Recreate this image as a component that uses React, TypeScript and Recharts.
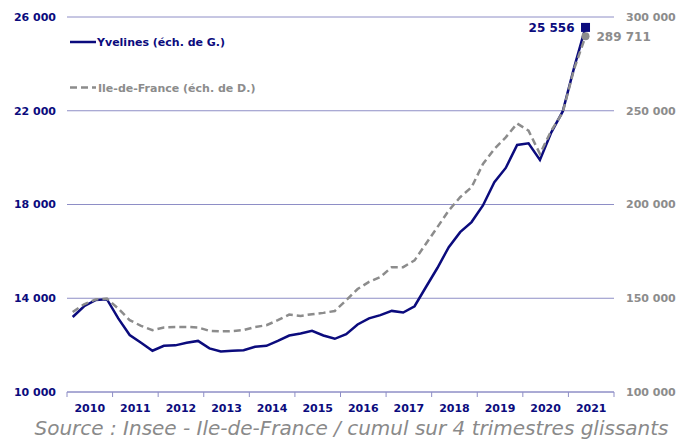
import React from 'react';
import { ComposedChart, Line, XAxis, YAxis, CartesianGrid } from 'recharts';

const years = ['2010', '2011', '2012', '2013', '2014', '2015', '2016', '2017', '2018', '2019', '2020', '2021'];

const quarters = years.flatMap((y) => ['T1', 'T2', 'T3', 'T4'].map((q) => `${y} ${q}`)).slice(0, 46);

// Yvelines, left scale
const yvelines = [
  13200, 13660, 13920, 13960, 13140, 12430, 12100, 11760, 11970, 11990,
  12100, 12180, 11860, 11730, 11760, 11780, 11930, 11970, 12180, 12410,
  12500, 12610, 12410, 12270, 12470, 12880, 13140, 13280, 13460, 13390,
  13660, 14480, 15290, 16180, 16820, 17250, 17960, 18950, 19560, 20540,
  20610, 19900, 21080, 21970, 23840, 25556,
];

// Ile-de-France, right scale
const idf = [
  142700, 146800, 149300, 149840, 144500, 138300, 135300, 133000, 134400, 134700,
  134700, 134400, 132600, 132300, 132500, 133000, 134700, 135600, 138300, 141300,
  140600, 141500, 142200, 143200, 148900, 154900, 158700, 161300, 166600, 166600,
  170200, 179100, 187900, 196800, 203900, 209200, 221600, 229600, 235800, 243200,
  239400, 227000, 239400, 249100, 272300, 289711,
];

const leftTicks = [10000, 14000, 18000, 22000, 26000];
const rightTicks = [100000, 150000, 200000, 250000, 300000];

const NAVY = '#0b0b7d';
const GREY = '#8c8c8c';
const GRID = '#8e8ec6';
const FONT = '"DejaVu Sans", Verdana, sans-serif';

const data = quarters.map((q, i) => ({ q, x: i + 0.5, yv: yvelines[i], idf: idf[i] }));

// tick every half year: boundaries get a tick mark, middles get the year label
const xTicks = [...years.flatMap((_, i) => [i * 4, i * 4 + 2]), years.length * 4];

const fmt = (v: number) => String(v).replace(/\B(?=(\d{3})+(?!\d))/g, ' ');

function YearTick({ x, y, payload }: any) {
  const v = payload.value;
  if (v % 4 === 0) {
    return <line x1={x} x2={x} y1={y} y2={y + 5} stroke={GRID} strokeWidth={1} />;
  }
  return (
    <text x={x} y={y + 20} textAnchor="middle" fill={NAVY} fontSize={11} fontWeight="bold" fontFamily={FONT}>
      {years[(v - 2) / 4]}
    </text>
  );
}

function NavyEnd(props: any) {
  const { cx, cy, index, value } = props;
  if (index !== yvelines.length - 1) return <g key={index} />;
  return (
    <g key="end">
      <rect x={cx - 4.5} y={cy - 4.5} width={9} height={9} fill={NAVY} />
      <text x={cx - 11} y={cy} dy="0.36em" textAnchor="end" fill={NAVY} fontSize={12} fontWeight="bold" fontFamily={FONT}>
        {fmt(value)}
      </text>
    </g>
  );
}

function GreyEnd(props: any) {
  const { cx, cy, index, value } = props;
  if (index !== idf.length - 1) return <g key={index} />;
  return (
    <g key="end">
      <circle cx={cx} cy={cy} r={4} fill={GREY} />
      <text x={cx + 11} y={cy} dy="0.36em" textAnchor="start" fill={GREY} fontSize={12} fontWeight="bold" fontFamily={FONT}>
        {fmt(value)}
      </text>
    </g>
  );
}

export default function App() {
  return (
    <div style={{ position: 'absolute', left: 0, top: 0, width: 688, height: 440, background: '#fff' }}>
      <ComposedChart width={688} height={440} data={data} margin={{ top: 17, right: 0, bottom: 0, left: 0 }}>
        <CartesianGrid vertical={false} yAxisId="left" stroke={GRID} />
        <XAxis
          type="number"
          dataKey="x"
          domain={[0, 48]}
          ticks={xTicks}
          interval={0}
          height={48}
          tickSize={0}
          tickMargin={0}
          tickLine={false}
          axisLine={{ stroke: GRID }}
          tick={<YearTick />}
        />
        <YAxis
          yAxisId="left"
          domain={[10000, 26000]}
          ticks={leftTicks}
          width={67}
          tickSize={0}
          tickMargin={11}
          axisLine={false}
          tickLine={false}
          tickFormatter={fmt}
          tick={{ fill: NAVY, fontSize: 11, fontWeight: 'bold', fontFamily: FONT }}
        />
        <YAxis
          yAxisId="right"
          orientation="right"
          domain={[100000, 300000]}
          ticks={rightTicks}
          width={74}
          tickSize={0}
          tickMargin={12}
          axisLine={false}
          tickLine={false}
          tickFormatter={fmt}
          tick={{ fill: GREY, fontSize: 11, fontWeight: 'bold', fontFamily: FONT }}
        />
        <Line
          yAxisId="left"
          type="linear"
          dataKey="yv"
          stroke={NAVY}
          strokeWidth={2.5}
          dot={NavyEnd}
          activeDot={false}
          isAnimationActive={false}
        />
        <Line
          yAxisId="right"
          type="linear"
          dataKey="idf"
          stroke={GREY}
          strokeWidth={2.5}
          strokeDasharray="7 4"
          dot={GreyEnd}
          activeDot={false}
          isAnimationActive={false}
        />
      </ComposedChart>
      <svg width={688} height={440} style={{ position: 'absolute', left: 0, top: 0, pointerEvents: 'none' }}>
        <line x1={70} x2={96} y1={42} y2={42} stroke={NAVY} strokeWidth={2.5} />
        <text x={97} y={46} fill={NAVY} fontSize={11} fontWeight="bold" fontFamily={FONT}>
          Yvelines (éch. de G.)
        </text>
        <line x1={70} x2={96} y1={87.5} y2={87.5} stroke={GREY} strokeWidth={2.5} strokeDasharray="7 4" />
        <text x={98} y={91.5} fill={GREY} fontSize={11} fontWeight="bold" fontFamily={FONT}>
          Ile-de-France (éch. de D.)
        </text>
        <text x={351.5} y={435} textAnchor="middle" fill="#8a8a8a" fontSize={20} fontStyle="italic" fontFamily={FONT}>
          Source : Insee - Ile-de-France / cumul sur 4 trimestres glissants
        </text>
      </svg>
    </div>
  );
}
